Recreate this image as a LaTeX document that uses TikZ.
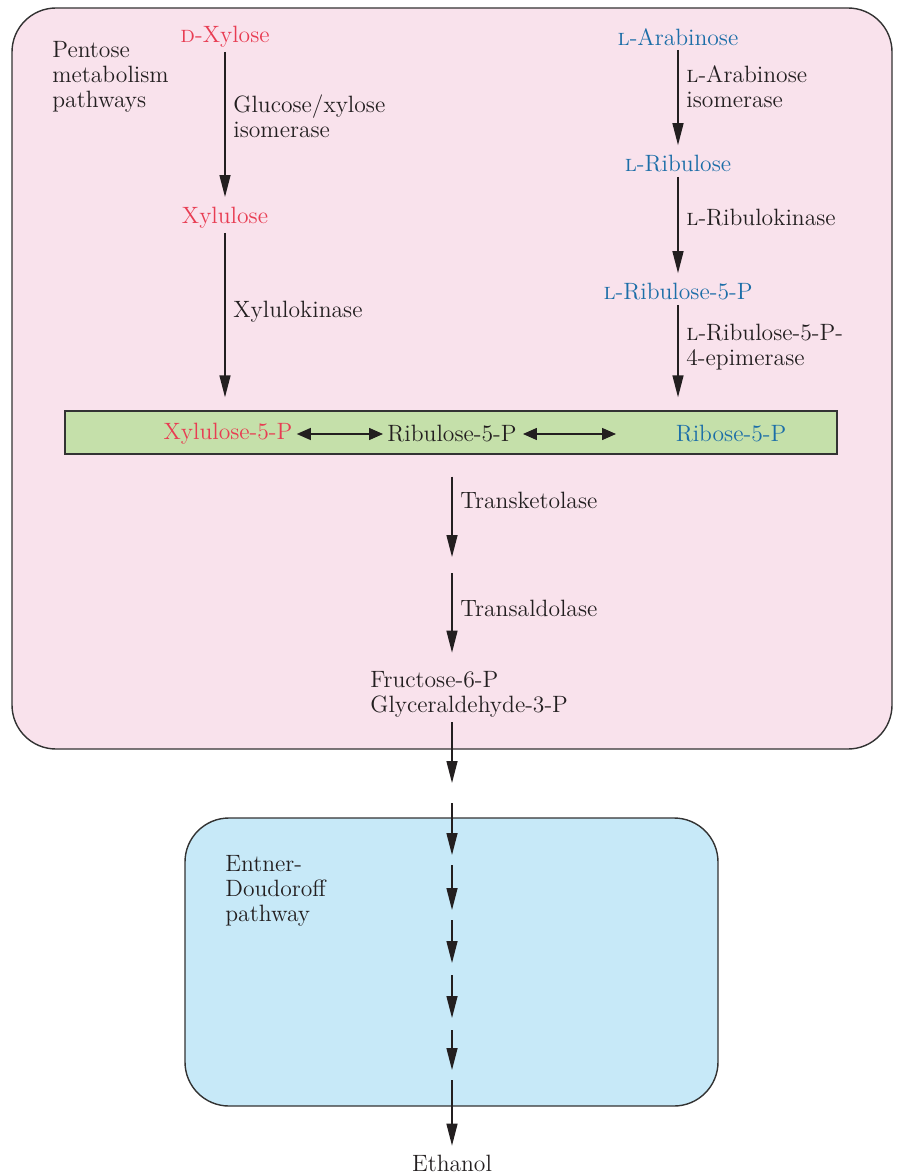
\documentclass[tikz,border=0pt]{standalone}
\usepackage{xcolor}
\usetikzlibrary{positioning, arrows.meta}
\definecolor{pentPink}{RGB}{249,226,236}
\definecolor{edBlue}{RGB}{199,233,248}
\definecolor{barGreen}{RGB}{197,224,170}
\definecolor{sugRed}{RGB}{232,60,82}
\definecolor{sugBlue}{RGB}{28,110,168}
\definecolor{inkDark}{RGB}{35,31,32}

\begin{document}
\begin{tikzpicture}[x=0.5pt, y=-0.5pt,
        font=\fontsize{11.8}{12.5}\selectfont, text=inkDark,
        lbl/.style={anchor=west, align=left, inner sep=0pt},
        sug/.style={inner sep=2pt},
        arr/.style={-{Triangle[length=11pt, width=5.5pt]}, line width=0.7pt, inkDark},
        dbl/.style={{Triangle[length=7pt, width=6pt]}-{Triangle[length=7pt, width=6pt]}, line width=0.7pt, inkDark},
        panel/.style={draw=black!80, line width=0.7pt, rounded corners=22pt}
    ]
    \useasboundingbox (0,0) rectangle (899,1176);
    \draw[panel, fill=pentPink] (12,8) rectangle (892,749);
    \draw[panel, fill=edBlue] (185,818) rectangle (718,1106);

    \node[lbl] (pmp) at (52,77) {Pentose\\metabolism\\pathways};
    \node[lbl] (edp) at (225,891) {Entner-\\Doudoroff\\pathway};

    % xylose branch
    \node[sug, text=sugRed] (xyl)  at (225,37)  {\textsc{d}-Xylose};
    \node[sug, text=sugRed] (xylu) at (225,218) {Xylulose};
    \draw[arr, shorten >=3pt] (xyl) -- (xylu);
    \node[lbl] at (233,116) {Glucose/xylose\\isomerase};
    \node[lbl] at (233,312) {Xylulokinase};

    % arabinose branch
    \node[sug, text=sugBlue] (ara)   at (678,37)  {\textsc{l}-Arabinose};
    \node[sug, text=sugBlue] (lrib)  at (678,164) {\textsc{l}-Ribulose};
    \node[sug, text=sugBlue] (lr5p)  at (678,292) {\textsc{l}-Ribulose-5-P};
    \draw[arr, shorten >=3pt] (ara) -- (lrib);
    \draw[arr, shorten >=3pt] (lrib) -- (lr5p);
    \node[lbl] at (686,87)  {\textsc{l}-Arabinose\\isomerase};
    \node[lbl] at (686,218) {\textsc{l}-Ribulokinase};
    \node[lbl] at (686,347) {\textsc{l}-Ribulose-5-P-\\4-epimerase};

    % pentose phosphate bar
    \node[draw=black!80, fill=barGreen, line width=0.7pt, minimum width=386pt,
        minimum height=21.5pt, inner sep=0pt] (bar) at (451,432.5) {};
    \node[sug, text=sugRed]  (x5p)  at (228,434) {Xylulose-5-P};
    \node[sug]               (r5p)  at (452,434) {Ribulose-5-P};
    \node[sug, text=sugBlue] (ri5p) at (731,434) {Ribose-5-P};
    \coordinate (dblend) at (616,434);
    \draw[dbl] (x5p) -- (r5p);
    \draw[dbl, shorten <=1pt] (r5p) -- (dblend);
    \draw[arr, shorten >=6.5pt] (xylu) -- (xylu |- bar.north);
    \draw[arr, shorten >=6.5pt] (lr5p) -- (lr5p |- bar.north);

    % toward ethanol
    \coordinate (gap) at (452,565);
    \node[lbl] (fru) at (370,694) {Fructose-6-P\\Glyceraldehyde-3-P};
    \draw[arr, shorten <=11pt, shorten >=4pt] (bar.south -| gap) -- (gap);
    \node[lbl] at (460,500) {Transketolase};
    \draw[arr, shorten <=4pt, shorten >=9pt] (gap) -- (fru.north -| gap);
    \node[lbl] at (460,608) {Transaldolase};

    \node (eth) at (452,1163) {Ethanol};
    \foreach \a/\b [count=\i] in {722/783, 803/855, 865/910, 920/963, 975/1018, 1030/1070} {
        \coordinate (s\i) at (452,\a);
        \coordinate (e\i) at (452,\b);
        \draw[arr] (s\i) -- (e\i);
    }
    \coordinate (s7) at (452,1080);
    \draw[arr, shorten >=1pt] (s7) -- (eth);
\end{tikzpicture}
\end{document}
